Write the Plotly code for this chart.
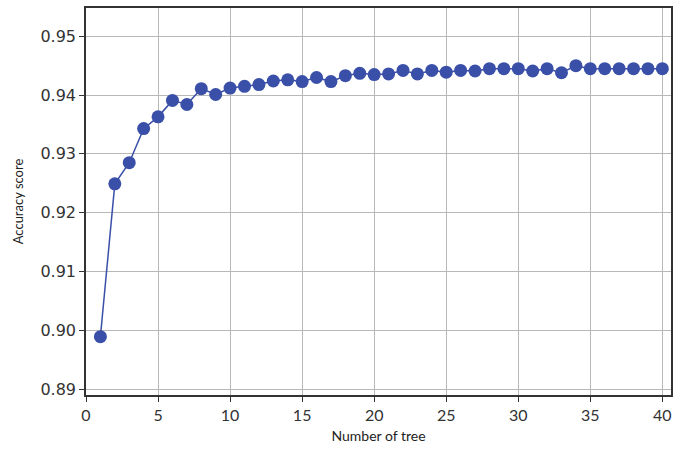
import plotly.graph_objects as go

n_trees = list(range(1, 41))
accuracy = [0.8989, 0.9249, 0.9285, 0.9343, 0.9363, 0.9391, 0.9384, 0.9411, 0.9401, 0.9412,
            0.9415, 0.9418, 0.9424, 0.9426, 0.9423, 0.9430, 0.9423, 0.9433, 0.9437, 0.9435,
            0.9436, 0.9442, 0.9436, 0.9442, 0.9439, 0.9442, 0.9441, 0.9445, 0.9445, 0.9445,
            0.9441, 0.9445, 0.9438, 0.9450, 0.9445, 0.9445, 0.9445, 0.9445, 0.9445, 0.9445]
x_ticks = [0, 5, 10, 15, 20, 25, 30, 35, 40]
y_ticks = [0.89, 0.90, 0.91, 0.92, 0.93, 0.94, 0.95]

color = "#3a4fa8"
fig = go.Figure(go.Scatter(
    x=n_trees, y=accuracy, mode="lines+markers",
    line=dict(color=color, width=1.5),
    marker=dict(color=color, size=13),
))
fig.update_layout(
    width=675, height=450,
    margin=dict(l=86, r=2, t=8, b=55),
    paper_bgcolor="white", plot_bgcolor="white",
    showlegend=False,
)
fig.update_xaxes(
    range=[0, 40.6], tickvals=x_ticks, ticktext=[str(v) for v in x_ticks],
    showgrid=True, gridcolor="#b8b8b8", gridwidth=1.2,
    showline=True, linecolor="#333333", linewidth=1.5, mirror=True,
    ticks="outside", ticklen=5, tickcolor="#333333",
    tickfont=dict(family="Lato, Open Sans, sans-serif", size=16, color="#333333"),
    title=dict(text="Number of tree", font=dict(family="Lato, Open Sans, sans-serif", size=14, color="#222222"), standoff=8),
    zeroline=False,
)
fig.update_yaxes(
    range=[0.88898, 0.95482], tickvals=y_ticks, tickformat=".2f",
    showgrid=True, gridcolor="#b8b8b8", gridwidth=1.2,
    showline=True, linecolor="#333333", linewidth=1.5, mirror=True,
    ticks="outside", ticklen=5, tickcolor="#333333",
    tickfont=dict(family="DejaVu Sans, sans-serif", size=16, color="#333333"),
    title=dict(text="Accuracy score", font=dict(family="Lato, Open Sans, sans-serif", size=13, color="#222222"), standoff=14),
    zeroline=False,
)
# remove the page's default body margin so the 675x450 figure fills the window exactly
fig.write_html(
    "out.html",
    config={"displayModeBar": False},
    post_script="document.body.style.margin='0';document.body.style.overflow='hidden';",
)
